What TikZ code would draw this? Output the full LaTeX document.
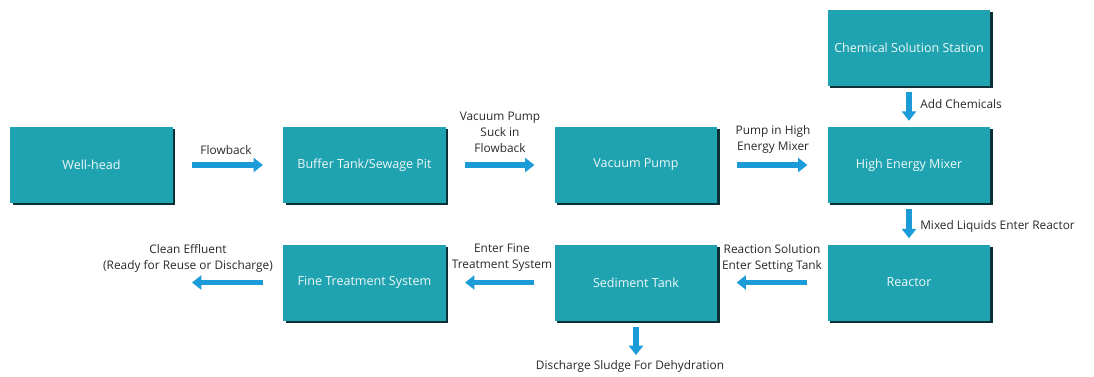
\documentclass[tikz,border=0pt]{standalone}
\usepackage{fontspec}
\setmainfont{Open Sans}
\usetikzlibrary{calc,shadows,arrows.meta}

\definecolor{boxteal}{RGB}{32,163,176}
\definecolor{flowblue}{RGB}{27,155,215}
\definecolor{labelgrey}{RGB}{40,40,40}

\tikzset{
  unit/.style={fill=boxteal, text=white!92!boxteal, minimum width=122pt, minimum height=57pt,
    inner sep=0pt, font=\fontsize{9.4}{12}\selectfont,
    drop shadow={shadow xshift=1.8pt, shadow yshift=-1.8pt, fill=black!70!boxteal, opacity=1}},
  flow/.style={draw=flowblue, line width=3.8pt, -{Triangle[length=7pt,width=10.5pt]}},
  note/.style={text=labelgrey, align=center, inner sep=0pt, font=\fontsize{8.9}{12}\selectfont}
}

\begin{document}
\begin{tikzpicture}[x=0.75pt,y=-0.75pt]
  \useasboundingbox (0,0) rectangle (1094,376);

  %% Process units
  \node[unit] (WELL)  at (91.5,165)  {Well-head};
  \node[unit] (BUF)   at (364.5,165) {Buffer Tank/Sewage Pit};
  \node[unit] (VAC)   at (636,165)   {Vacuum Pump};
  \node[unit] (MIX)   at (909,165)   {High Energy Mixer};
  \node[unit] (CHEM)  at (909,48)    {Chemical Solution Station};
  \node[unit] (REAC)  at (909,282.5) {Reactor};
  \node[unit] (SED)   at (636,282.5) {Sediment Tank};
  \node[unit] (FINE)  at (364.5,282.5) {Fine Treatment System};

  %% Free ends of the outgoing arrows
  \coordinate (OUT)   at (192,282.5);
  \coordinate (SLUDGE) at (636,355);

  %% Top row, left to right
  \foreach \a/\b in {WELL/BUF,BUF/VAC,VAC/MIX}
  {
    \draw[flow] ($(\a.east)+(19,0)$) -- ($(\b.west)+(-20,0)$);
  }
  %% Bottom row, right to left
  \foreach \a/\b in {REAC/SED,SED/FINE}
  {
    \draw[flow] ($(\a.west)+(-20,0)$) -- ($(\b.east)+(19,0)$);
  }
  \draw[flow] ($(FINE.west)+(-20,0)$) -- (OUT);

  %% Vertical arrows
  \draw[flow] ($(CHEM.south)+(0,6)$) -- ($(MIX.north)+(0,-6)$);
  \draw[flow] ($(MIX.south)+(0,6)$) -- ($(REAC.north)+(0,-6)$);
  \draw[flow] ($(SED.south)+(0,6)$) -- (SLUDGE);

  %% Labels
  \node[note] (L1) at (226,150) {Flowback};
  \node[note] (L2) at (500,132) {Vacuum Pump\\Suck in\\Flowback};
  \node[note] (L3) at (773,139) {Pump in High\\Energy Mixer};
  \node[note, anchor=west] (L4) at (920,104) {Add Chemicals};
  \node[note, anchor=west] (L5) at (920,226) {Mixed Liquids Enter Reactor};
  \node[note] (L6) at (772,258) {Reaction Solution\\Enter Setting Tank};
  \node[note] (L7) at (502,258) {Enter Fine\\Treatment System};
  \node[note] (L8) at (188,258) {Clean Effluent\\(Ready for Reuse or Discharge)};
  \node[note] (L9) at (630,366) {Discharge Sludge For Dehydration};
\end{tikzpicture}
\end{document}
